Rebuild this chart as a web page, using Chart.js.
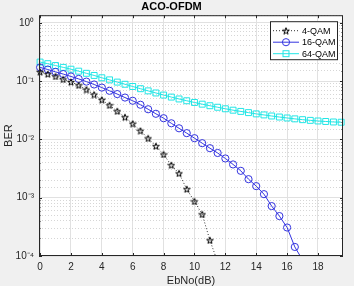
<!DOCTYPE html>
<html>
<head>
<meta charset="utf-8">
<title>ACO-OFDM</title>
<script src="https://cdn.jsdelivr.net/npm/chart.js@4.4.1/dist/chart.umd.min.js"></script>
<style>
  html, body { margin: 0; padding: 0; background: #f0f0f0; }
  #wrap { width: 354px; height: 286px; }
</style>
</head>
<body>
<div id="wrap"><canvas id="ber-chart" width="354" height="286"></canvas></div>
<script>
var ebno = [0, 0.5, 1, 1.5, 2, 2.5, 3, 3.5, 4, 4.5, 5, 5.5, 6, 6.5, 7, 7.5, 8, 8.5, 9, 9.5,
  10, 10.5, 11, 11.5, 12, 12.5, 13, 13.5, 14, 14.5, 15, 15.5, 16, 16.5, 17, 17.5, 18, 18.5, 19, 19.5];

var ber4qam = [0.144, 0.132, 0.120, 0.107, 0.0965, 0.0847, 0.0715, 0.0587, 0.0478, 0.0385,
  0.0304, 0.0240, 0.0186, 0.0141, 0.0104, 0.00765, 0.00551, 0.00362, 0.00261, 0.00140,
  0.000864, 0.000518, 0.000186, 0.000079];

var ber16qam = [0.172, 0.158, 0.144, 0.132, 0.120, 0.109, 0.098, 0.0875, 0.0774, 0.0682,
  0.0599, 0.0522, 0.0460, 0.0393, 0.0329, 0.0275, 0.0231, 0.0189, 0.0155, 0.0128,
  0.0105, 0.00861, 0.00707, 0.00585, 0.00471, 0.00372, 0.00289, 0.00208, 0.00158, 0.00115,
  0.000718, 0.000484, 0.000308, 0.000143, 0.0000854];

var ber64qam = [0.212, 0.199, 0.185, 0.172, 0.160, 0.148, 0.136, 0.125, 0.114, 0.105,
  0.0961, 0.0882, 0.0808, 0.0741, 0.0680, 0.0626, 0.0576, 0.0532, 0.0494, 0.0460,
  0.0430, 0.0402, 0.0378, 0.0356, 0.0335, 0.0317, 0.0302, 0.0288, 0.0274, 0.0263,
  0.0252, 0.0242, 0.0233, 0.0225, 0.0218, 0.0212, 0.0207, 0.0203, 0.0199, 0.0197];

var seriesNames = ["4-QAM", "16-QAM", "64-QAM"];
var xTickStep = 2;
var xRange = [-0.07, 19.62];
var yRange = [1e-4, 1.35];

var fontFamily = "'Liberation Sans', Arial, Helvetica, sans-serif";
var frameColor = "#262626";

function toPoints(values) {
  return values.map(function (v, i) {
    return { x: ebno[i], y: v };
  });
}

function isDecade(v) {
  if (!v) return false;
  var p = Math.log10(v);
  return Math.abs(p - Math.round(p)) < 1e-6;
}

function supText(n) {
  var map = { "-": "\u207B", "0": "\u2070", "1": "\u00B9", "2": "\u00B2", "3": "\u00B3", "4": "\u2074" };
  return String(n).split("").map(function (c) { return map[c] || c; }).join("");
}

// matlab style pentagram marker
function makeStar(size, color) {
  var c = document.createElement("canvas");
  c.width = size;
  c.height = size;
  var g = c.getContext("2d");
  var cx = size / 2, cy = size / 2 + 0.4;
  var r = size / 2 - 0.5, ri = r * 0.4;
  g.beginPath();
  for (var i = 0; i < 10; i++) {
    var a = -Math.PI / 2 + i * Math.PI / 5;
    var rr = i % 2 ? ri : r;
    g.lineTo(cx + rr * Math.cos(a), cy + rr * Math.sin(a));
  }
  g.closePath();
  g.strokeStyle = color;
  g.lineWidth = 1;
  g.stroke();
  return c;
}

var starImg = makeStar(8, "#000000");

function drawMarker(ctx, ds, x, y) {
  var style = ds.pointStyle;
  ctx.save();
  if (style instanceof HTMLCanvasElement) {
    ctx.drawImage(style, x - style.width / 2, y - style.height / 2);
  } else if (style === "rect") {
    var h = ds.pointRadius * Math.SQRT1_2;
    ctx.strokeStyle = ds.pointBorderColor;
    ctx.lineWidth = 1;
    ctx.strokeRect(x - h, y - h, 2 * h, 2 * h);
  } else {
    ctx.strokeStyle = ds.pointBorderColor;
    ctx.lineWidth = 1;
    ctx.beginPath();
    ctx.arc(x, y, ds.pointRadius, 0, Math.PI * 2);
    ctx.stroke();
  }
  ctx.restore();
}

var matlabAxes = {
  id: "matlabAxes",
  beforeDraw: function (chart) {
    var a = chart.chartArea, ctx = chart.ctx;
    ctx.save();
    ctx.fillStyle = "#f0f0f0";
    ctx.fillRect(0, 0, chart.width, chart.height);
    ctx.fillStyle = "#ffffff";
    ctx.fillRect(a.left, a.top, a.right - a.left, a.bottom - a.top);
    ctx.restore();
  },
  afterDatasetsDraw: function (chart) {
    var a = chart.chartArea, ctx = chart.ctx;
    var xs = chart.scales.x, ys = chart.scales.y;
    ctx.save();
    ctx.strokeStyle = frameColor;
    ctx.lineWidth = 1;
    ctx.strokeRect(a.left + 0.5, a.top + 0.5, a.right - a.left - 1, a.bottom - a.top - 1);

    // inner tick marks on all four sides
    ctx.beginPath();
    xs.ticks.forEach(function (t) {
      var px = Math.round(xs.getPixelForValue(t.value)) + 0.5;
      ctx.moveTo(px, a.bottom);
      ctx.lineTo(px, a.bottom - 3);
      ctx.moveTo(px, a.top);
      ctx.lineTo(px, a.top + 3);
    });
    ys.ticks.forEach(function (t) {
      if (t.value > yRange[1] * 0.999) return;
      var len = isDecade(t.value) ? 3 : 1.5;
      var py = Math.round(ys.getPixelForValue(t.value)) + 0.5;
      ctx.moveTo(a.left, py);
      ctx.lineTo(a.left + len, py);
      ctx.moveTo(a.right, py);
      ctx.lineTo(a.right - len, py);
    });
    ctx.stroke();

    // legend box in the north east corner
    var boxW = 68, boxH = 39;
    var bx = a.right - 5 - boxW, by = a.top + 6;
    ctx.fillStyle = "#ffffff";
    ctx.fillRect(bx, by, boxW, boxH);
    ctx.strokeStyle = frameColor;
    ctx.strokeRect(bx + 0.5, by + 0.5, boxW - 1, boxH - 1);
    ctx.font = "9px " + fontFamily;
    ctx.textBaseline = "middle";
    ctx.textAlign = "left";
    chart.data.datasets.forEach(function (ds, i) {
      var rowY = by + 9.5 + i * 11.5;
      ctx.save();
      ctx.strokeStyle = ds.borderColor;
      ctx.lineWidth = ds.borderWidth;
      ctx.setLineDash(ds.borderDash || []);
      ctx.beginPath();
      ctx.moveTo(bx + 3, rowY);
      ctx.lineTo(bx + 29, rowY);
      ctx.stroke();
      ctx.restore();
      drawMarker(ctx, ds, bx + 16, rowY);
      ctx.fillStyle = "#000000";
      ctx.fillText(ds.label, bx + 32, rowY + 0.5);
    });
    ctx.restore();
  },
};

var ctx = document.getElementById("ber-chart");

new Chart(ctx, {
  type: "line",
  data: {
    datasets: [
      {
        label: seriesNames[0],
        data: toPoints(ber4qam),
        borderColor: "#333333",
        borderWidth: 1,
        borderDash: [1, 2],
        pointStyle: starImg,
        pointRadius: 4,
        pointBorderColor: "#000000",
        backgroundColor: "transparent",
      },
      {
        label: seriesNames[1],
        data: toPoints(ber16qam),
        borderColor: "#3434e0",
        borderWidth: 1,
        pointStyle: "circle",
        pointRadius: 3.6,
        pointBorderWidth: 1,
        pointBorderColor: "#3434e0",
        pointBackgroundColor: "transparent",
      },
      {
        label: seriesNames[2],
        data: toPoints(ber64qam),
        borderColor: "#22e6e6",
        borderWidth: 1,
        pointStyle: "rect",
        pointRadius: 4.2,
        pointBorderWidth: 1,
        pointBorderColor: "#22e6e6",
        pointBackgroundColor: "transparent",
      },
    ],
  },
  options: {
    responsive: false,
    animation: false,
    devicePixelRatio: 1,
    clip: { left: 6, top: 6, right: 6, bottom: 0 },
    layout: { padding: { left: 0, top: 0, right: 11, bottom: 0 } },
    elements: { line: { tension: 0, fill: false } },
    plugins: {
      legend: { display: false },
      tooltip: { enabled: false },
      title: {
        display: true,
        text: "ACO-OFDM",
        color: "#000000",
        font: { family: fontFamily, size: 11, weight: "bold" },
        padding: { top: 0, bottom: 2 },
      },
    },
    scales: {
      x: {
        type: "linear",
        min: xRange[0],
        max: xRange[1],
        afterFit: function (scale) {
          scale.height = 30;
        },
        ticks: {
          stepSize: xTickStep,
          includeBounds: false,
          padding: 5,
          color: "#262626",
          font: { family: fontFamily, size: 10 },
          maxRotation: 0,
        },
        grid: { color: "#e1e1e1", lineWidth: 1, drawTicks: false },
        border: { display: false },
        title: {
          display: true,
          text: "EbNo(dB)",
          color: "#262626",
          font: { family: fontFamily, size: 11, lineHeight: 1 },
          padding: { top: 0, bottom: 0 },
        },
      },
      y: {
        type: "logarithmic",
        min: yRange[0],
        max: yRange[1],
        afterFit: function (scale) {
          scale.width = 39;
        },
        ticks: {
          autoSkip: false,
          padding: 5,
          color: "#262626",
          font: { family: fontFamily, size: 10 },
          callback: function (value) {
            if (!isDecade(value)) return "";
            return "10" + supText(Math.round(Math.log10(value)));
          },
        },
        grid: {
          drawTicks: false,
          color: function (c) {
            return c.tick && isDecade(c.tick.value) ? "#e1e1e1" : "#d6d6d6";
          },
        },
        border: {
          display: false,
          dash: function (c) {
            return c.tick && isDecade(c.tick.value) ? [] : [1, 2];
          },
        },
        title: {
          display: true,
          text: "BER",
          color: "#262626",
          font: { family: fontFamily, size: 11 },
          padding: { top: 2, bottom: 0 },
        },
      },
    },
  },
  plugins: [matlabAxes],
});
</script>
</body>
</html>
